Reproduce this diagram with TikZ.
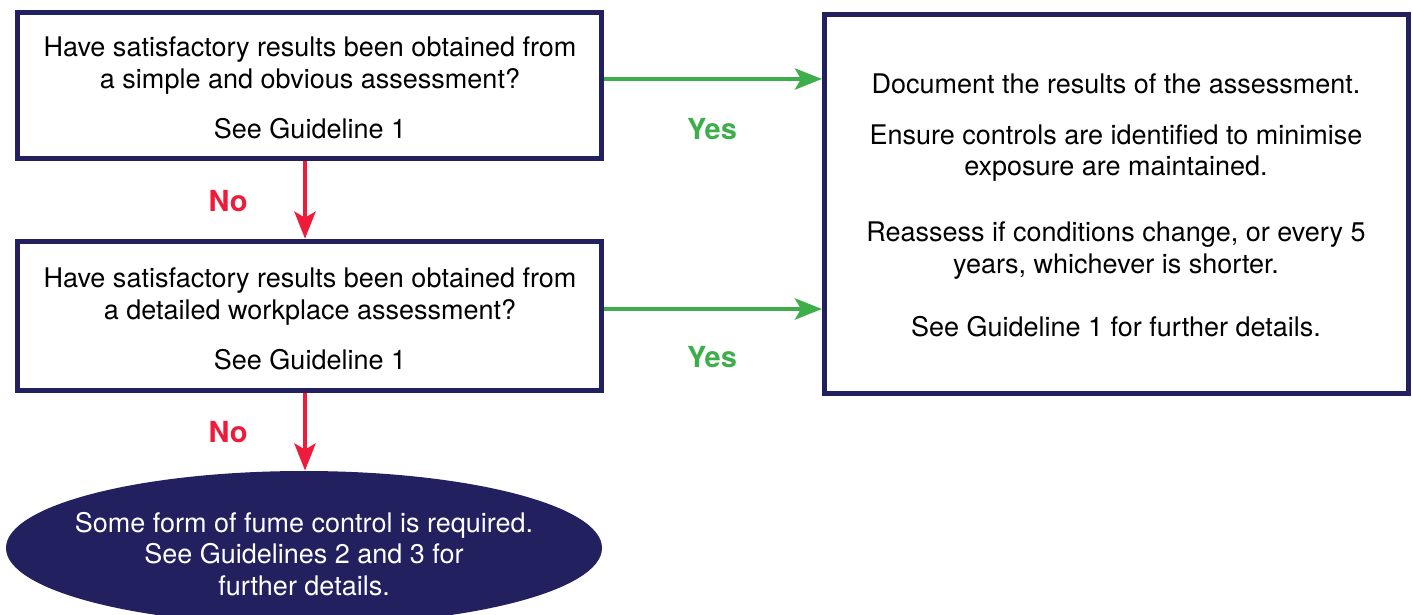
\documentclass[tikz,border=0pt]{standalone}
\usepackage{fontspec}
\setmainfont{TeX Gyre Heros}
\usetikzlibrary{arrows.meta,shapes.geometric}
\definecolor{navy}{HTML}{22205E}
\definecolor{yesgreen}{HTML}{3DAE49}
\definecolor{nored}{HTML}{EE1C3A}
\tikzset{
  box/.style={draw=navy,line width=2.5pt,fill=white,rectangle,inner sep=0pt},
  txt/.style={font=\fontsize{13.5}{16}\selectfont,text=black,inner sep=0pt,text height=11.5pt,text depth=1.5pt},
  wtxt/.style={font=\fontsize{13.5}{16}\selectfont,text=white,inner sep=0pt,text height=11.5pt,text depth=1.5pt},
  yeslbl/.style={font=\fontsize{14.5}{17}\selectfont\bfseries,text=yesgreen,inner sep=0pt},
  nolbl/.style={font=\fontsize{14.5}{17}\selectfont\bfseries,text=nored,inner sep=0pt},
  yesarrow/.style={draw=yesgreen,line width=2.3pt,-{Stealth[length=13.5pt,width=10.5pt,inset=3pt]}},
  noarrow/.style={draw=nored,line width=2.3pt,-{Stealth[length=13.5pt,width=10.5pt,inset=3pt]}},
}
\begin{document}
\begin{tikzpicture}[x=0.5pt,y=-0.5pt]
\useasboundingbox (0,0) rectangle (1413,615);
% boxes
\node[box,minimum width=292pt,minimum height=73pt] (q1) at (309.5,85.5) {};
\node[box,minimum width=292pt,minimum height=74.75pt] (q2) at (309.5,316) {};
\node[box,minimum width=291.75pt,minimum height=189pt] (res) at (1116.25,204) {};
\node[ellipse,fill=navy,minimum width=298pt,minimum height=77pt,inner sep=0pt] (ctl) at (304,548) {};
% texts
\node[txt] (q1a) at (310,47) {Have satisfactory results been obtained from};
\node[txt] (q1b) at (310,79) {a simple and obvious assessment?};
\node[txt] (q1c) at (310,129) {See Guideline 1};
\node[txt] (q2a) at (310,277) {Have satisfactory results been obtained from};
\node[txt] (q2b) at (310,309) {a detailed workplace assessment?};
\node[txt] (q2c) at (310,359) {See Guideline 1};
\node[txt] (r1) at (1116,84) {Document the results of the assessment.};
\node[txt] (r2) at (1116,134) {Ensure controls are identified to minimise};
\node[txt] (r3) at (1116,166) {exposure are maintained.};
\node[txt] (r4) at (1116,231) {Reassess if conditions change, or every 5};
\node[txt] (r5) at (1116,263) {years, whichever is shorter.};
\node[txt] (r6) at (1116,326) {See Guideline 1 for further details.};
\node[wtxt] (c1) at (304,522) {Some form of fume control is required.};
\node[wtxt] (c2) at (304,553) {See Guidelines 2 and 3 for};
\node[wtxt] (c3) at (304,585) {further details.};
% labels
\node[yeslbl] (y1) at (712,129) {Yes};
\node[yeslbl] (y2) at (712,357) {Yes};
\node[nolbl] (n1) at (228,201) {No};
\node[nolbl] (n2) at (228,432) {No};
% connectors
\coordinate (a1) at (q1.east |- 0,79);
\coordinate (a2) at (q2.east |- 0,309);
\draw[yesarrow] (a1) -- (a1 -| res.west);
\draw[yesarrow] (a2) -- (a2 -| res.west);
\coordinate (d1) at (q1.south -| 305,0);
\coordinate (d2) at (q2.south -| 305,0);
\draw[noarrow] (d1) -- (d1 |- q2.north);
\draw[noarrow] (d2) -- (d2 |- ctl.north);
\end{tikzpicture}
\end{document}
